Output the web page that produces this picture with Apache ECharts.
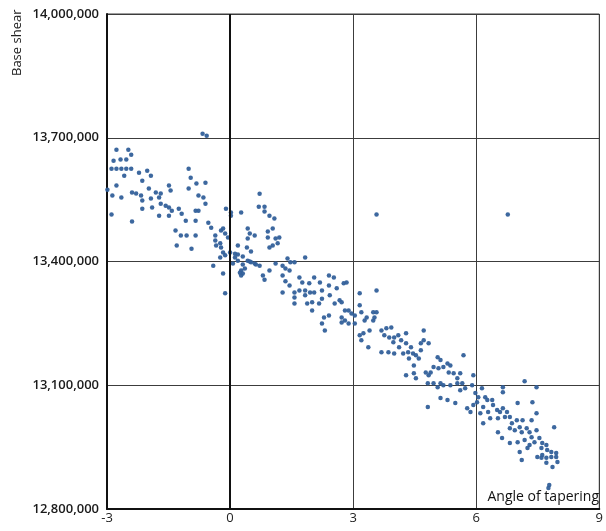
<!DOCTYPE html>
<html>
<head>
<meta charset="utf-8">
<script src="https://cdn.jsdelivr.net/npm/echarts@6/dist/echarts.min.js"></script>
<style>html,body{margin:0;padding:0;background:#fff}#c{width:606px;height:531px}</style>
</head>
<body>
<div id="c"></div>
<script>
const xTicks = [-3, 0, 3, 6, 9];
const yTicks = [12800000, 13100000, 13400000, 13700000, 14000000];
const xAxisTitle = "Angle of tapering";
const yAxisTitle = "Base shear";

const angle = [
-2.77,-2.48,-2.41,-2.84,-2.67,-2.53,-2.89,-2.77,-2.65,-2.53,-2.41,-2.58,-2.77,-2.22,-2.02,-1.93,-2.14,-1.98,-1.81,-1.69,
-1.45,-1.49,-1.01,-0.96,-0.82,-0.60,-1.01,-0.77,-0.65,-0.60,-0.84,-0.77,-2.87,-2.65,-2.39,-2.29,-2.17,-2.14,-1.93,-1.73,
-1.69,-1.57,-1.49,-1.42,-2.14,-1.90,-1.73,-1.49,-1.25,-1.18,-1.08,-0.84,-2.39,-2.89,-2.99,-1.33,-1.20,-1.06,-0.84,-1.30,
-0.94,-0.53,-0.46,-0.36,-0.34,-0.24,-0.41,-0.17,-0.67,-0.57,
0.02,0.02,0.00,-0.12,-0.17,-0.12,0.12,0.19,0.27,0.31,0.43,0.51,0.60,0.27,-0.24,-0.22,-0.12,-0.05,-0.36,-0.22,
0.72,0.70,0.84,0.84,0.96,1.08,1.04,0.92,0.92,1.11,1.20,1.04,0.96,1.16,0.43,0.48,0.60,0.43,0.19,0.41,
0.51,-0.10,-0.17,0.12,0.19,0.31,0.07,0.31,0.48,0.63,0.24,0.27,0.36,0.72,0.80,0.84,0.96,1.11,1.28,1.40,
1.47,1.57,1.35,1.45,1.28,1.35,1.45,1.57,1.28,1.69,1.76,1.83,1.95,2.05,1.93,2.05,2.19,2.24,2.41,2.53,
2.41,2.60,2.67,2.55,2.43,2.24,2.17,2.00,1.83,1.69,1.57,1.57,1.88,2.00,2.29,2.41,2.24,2.31,1.83,2.72,2.72,
2.77,2.84,3.16,3.57,2.72,2.80,2.89,2.96,3.04,2.80,2.89,3.04,3.16,3.20,3.28,3.33,3.49,3.57,3.49,3.52,
3.16,3.25,3.20,3.37,3.40,3.69,3.81,3.93,3.76,3.88,4.00,4.10,3.98,4.17,4.29,4.12,4.29,4.41,3.69,3.86,
4.00,4.22,4.34,4.46,4.36,4.53,4.60,4.48,4.65,4.72,4.84,4.72,4.65,4.29,4.48,4.53,4.77,4.84,4.89,5.06,
5.13,4.96,5.08,5.20,5.30,5.37,5.33,5.45,5.54,5.61,4.82,4.96,5.06,5.13,5.20,5.37,5.54,5.61,5.13,5.30,
5.49,4.82,5.69,
5.93,5.66,5.73,5.90,5.98,6.05,6.02,5.93,5.78,5.86,6.14,6.22,6.27,6.39,6.41,6.65,6.65,7.18,7.47,6.17,
6.10,6.29,6.34,6.17,6.51,6.58,6.65,6.75,6.53,6.70,6.82,6.87,7.01,6.99,7.13,7.37,7.47,7.35,7.06,7.23,
7.30,7.47,6.82,6.94,7.11,6.53,6.63,6.82,7.01,7.18,7.30,7.25,7.35,7.42,7.54,7.61,7.71,7.59,7.73,7.83,
7.95,7.61,7.49,7.59,7.71,7.83,7.95,7.98,7.06,7.11,7.71,7.86,7.90,7.78,7.76,
3.57,6.77
];

const baseShear = [
13671000,13671000,13659000,13644000,13647000,13647000,13625000,13625000,13625000,13625000,13625000,13608000,13584000,13615000,13620000,13608000,13596000,13577000,13567000,13565000,
13572000,13584000,13625000,13603000,13589000,13591000,13577000,13560000,13555000,13540000,13523000,13523000,13560000,13555000,13567000,13565000,13560000,13548000,13553000,13555000,
13540000,13535000,13531000,13523000,13528000,13531000,13511000,13511000,13528000,13516000,13499000,13499000,13497000,13514000,13574000,13475000,13463000,13463000,13463000,13439000,
13431000,13494000,13482000,13451000,13439000,13410000,13390000,13371000,13710000,13705000,
13519000,13511000,13422000,13415000,13422000,13323000,13410000,13402000,13378000,13371000,13402000,13398000,13395000,13519000,13444000,13434000,13468000,13458000,13463000,13475000,
13564000,13533000,13533000,13521000,13511000,13504000,13480000,13473000,13458000,13456000,13458000,13439000,13434000,13444000,13480000,13468000,13463000,13456000,13439000,13434000,
13424000,13528000,13480000,13419000,13417000,13412000,13395000,13393000,13400000,13393000,13373000,13366000,13383000,13390000,13366000,13356000,13378000,13395000,13390000,13407000,
13398000,13398000,13383000,13378000,13366000,13352000,13342000,13325000,13325000,13361000,13349000,13330000,13325000,13325000,13347000,13361000,13349000,13330000,13366000,13361000,
13342000,13335000,13306000,13298000,13318000,13310000,13298000,13301000,13318000,13330000,13313000,13298000,13298000,13281000,13264000,13269000,13250000,13233000,13410000,13264000,13252000,
13347000,13349000,13323000,13330000,13301000,13281000,13281000,13274000,13269000,13257000,13250000,13250000,13294000,13277000,13257000,13264000,13277000,13277000,13257000,13264000,
13221000,13226000,13209000,13192000,13233000,13233000,13238000,13240000,13221000,13216000,13216000,13221000,13204000,13209000,13226000,13192000,13202000,13192000,13180000,13180000,
13177000,13177000,13180000,13177000,13165000,13173000,13165000,13148000,13202000,13209000,13202000,13233000,13185000,13124000,13129000,13117000,13131000,13124000,13131000,13168000,
13161000,13144000,13141000,13144000,13153000,13148000,13131000,13129000,13117000,13129000,13105000,13105000,13095000,13105000,13100000,13100000,13105000,13088000,13069000,13064000,
13057000,13047000,13173000,
13124000,13105000,13093000,13100000,13081000,13071000,13059000,13052000,13044000,13035000,13093000,13071000,13064000,13064000,13052000,13095000,13083000,13110000,13095000,13047000,
13032000,13035000,13020000,13008000,13040000,13035000,13044000,13035000,13020000,13023000,13023000,13008000,13057000,13015000,13015000,13059000,13032000,13015000,12998000,12996000,
12986000,12991000,12996000,12991000,12986000,12986000,12972000,12960000,12962000,12967000,12955000,12948000,12974000,12962000,12972000,12960000,12955000,12948000,12943000,12938000,
12936000,12931000,12926000,12924000,12924000,12926000,12926000,12914000,12938000,12919000,12912000,12902000,12998000,12858000,12851000,
13514000,13514000
];

const points = angle.map((a, i) => [a, baseShear[i]]);

const chart = echarts.init(document.getElementById('c'), null, {renderer: 'canvas'});
const lineCol = '#3c3c3c';
chart.setOption({
  animation: false,
  backgroundColor: '#ffffff',
  grid: {left: 107, right: 2, top: 14, bottom: 22, containLabel: false,
         show: true, borderColor: lineCol, borderWidth: 1},
  xAxis: {
    type: 'value', min: xTicks[0], max: xTicks[xTicks.length - 1], interval: 3,
    axisLine: {show: true, onZero: false, lineStyle: {color: '#111', width: 2}},
    axisTick: {show: false},
    splitLine: {show: true, lineStyle: {color: lineCol, width: 1}},
    axisLabel: {color: '#222', fontSize: 13, fontFamily: 'Open Sans', margin: 3,
                showMaxLabel: true}
  },
  yAxis: {
    type: 'value', min: yTicks[0], max: yTicks[yTicks.length - 1], interval: 300000,
    axisLine: {show: true, onZero: false, lineStyle: {color: '#111', width: 2}},
    axisTick: {show: false},
    splitLine: {show: true, lineStyle: {color: lineCol, width: 1}},
    axisLabel: {color: '#1a1a1a', fontSize: 13, fontWeight: 600, fontFamily: 'Open Sans', margin: 8,
                formatter: v => v.toLocaleString('en-US')}
  },
  graphic: [
    {type: 'text', x: 17, y: 76, rotation: Math.PI / 2,
     style: {text: yAxisTitle, fill: '#222', font: '13px "Open Sans"', textAlign: 'left', textVerticalAlign: 'middle'}},
    {type: 'text', x: 599, y: 497,
     style: {text: xAxisTitle, fill: '#111', font: '14px "Open Sans"', textAlign: 'right', textVerticalAlign: 'middle'}}
  ],
  series: [{
    type: 'scatter',
    data: points,
    symbolSize: 4.5,
    itemStyle: {color: '#33609a', opacity: 0.95},
    markLine: {
      silent: true, symbol: 'none', label: {show: false},
      lineStyle: {color: '#111', width: 2, type: 'solid'},
      data: [{xAxis: 0}]
    }
  }]
});
</script>
</body>
</html>
